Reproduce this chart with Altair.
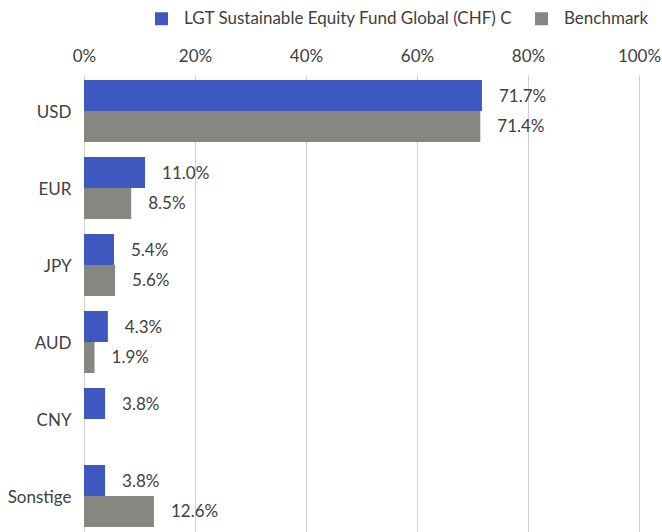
import altair as alt
import pandas as pd

currencies = ["USD", "EUR", "JPY", "AUD", "CNY", "Sonstige"]
fund_values = [71.7, 11.0, 5.4, 4.3, 3.8, 3.8]
bench_values = [71.4, 8.5, 5.6, 1.9, 0.0, 12.6]
series_names = ["LGT Sustainable Equity Fund Global (CHF) C", "Benchmark"]
series_colors = ["#3D58BE", "#878782"]
x_ticks = [0, 20, 40, 60, 80, 100]

rows = []
for c, f, b in zip(currencies, fund_values, bench_values):
    rows.append({"cur": c, "series": series_names[0], "value": f})
    rows.append({"cur": c, "series": series_names[1], "value": b})
df = pd.DataFrame(rows)
df["label"] = df["value"].map(lambda v: f"{v:.1f}%")

FONT = "Lato"
FS = 17
TXT = "#404040"

y_enc = alt.Y("cur:N", sort=currencies,
              scale=alt.Scale(paddingInner=0.195, paddingOuter=0.065),
              axis=alt.Axis(title=None, domain=False, ticks=False, labelPadding=13,
                            labelFontSize=FS, labelColor=TXT, labelFont=FONT, labelOffset=2))
yoff = alt.YOffset("series:N", sort=series_names, scale=alt.Scale(paddingInner=0, paddingOuter=0))

base = alt.Chart(df).transform_filter("datum.value > 0")

bars = base.mark_bar().encode(
    x=alt.X("value:Q", scale=alt.Scale(domain=[0, 100], nice=False),
            axis=alt.Axis(orient="top", values=x_ticks, title=None, domain=False, ticks=False,
                          labelExpr="datum.value + '%'", labelFontSize=FS, labelColor=TXT,
                          labelFont=FONT, labelPadding=10, labelFlush=False,
                          gridColor="#d0d0d0", gridWidth=1)),
    y=y_enc,
    yOffset=yoff,
    color=alt.Color("series:N", sort=series_names,
                    scale=alt.Scale(domain=series_names, range=series_colors),
                    legend=alt.Legend(title=None, orient="none", direction="horizontal",
                                      legendX=69, legendY=-65, symbolType="square",
                                      symbolSize=169, symbolStrokeWidth=0, labelOffset=14,
                                      columnPadding=20, labelFontSize=FS, labelColor=TXT,
                                      labelFont=FONT, labelLimit=0)),
)

texts = base.mark_text(align="left", baseline="middle", dx=17, dy=1, fontSize=FS,
                       color=TXT, font=FONT).encode(
    x="value:Q",
    y=alt.Y("cur:N", sort=currencies),
    yOffset=yoff,
    text="label:N",
)

chart = (bars + texts).properties(
    width=555, height=457,
    autosize=alt.AutoSizeParams(type="none"),
    padding={"left": 84, "top": 75, "right": 23, "bottom": 0},
).configure_view(stroke=None)

chart.save("out.html", embed_options={"renderer": "svg", "actions": False})
